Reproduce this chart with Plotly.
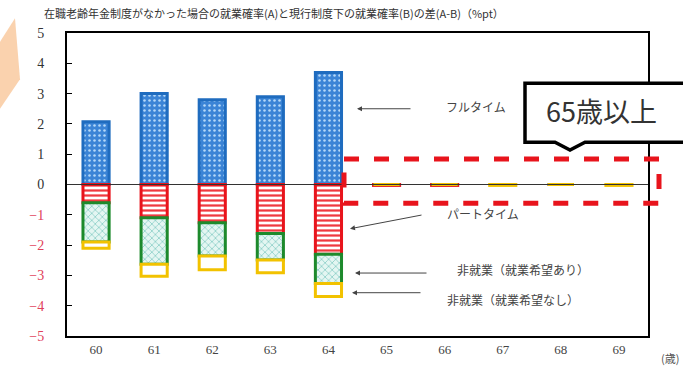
import plotly.graph_objects as go

ages = ["60", "61", "62", "63", "64", "65", "66", "67", "68", "69"]
fulltime = [2.07, 3.0, 2.8, 2.9, 3.7, 0, 0, 0, 0, 0]
parttime = [-0.6, -1.1, -1.26, -1.62, -2.3, -0.03, -0.03, 0, 0, 0]
nonemp_wish = [-1.3, -1.53, -1.1, -0.87, -0.97, 0, 0, 0, 0, 0]
nonemp_nowish = [-0.2, -0.4, -0.45, -0.42, -0.43, 0, 0, -0.03, 0, -0.03]
ytick_vals = [5, 4, 3, 2, 1, 0, -1, -2, -3, -4, -5]

W, H = 683, 369
L, R, T, B = 67, 648, 33, 341


def px(x):
    return (x - L) / (R - L)


def py(y):
    return (B - y) / (B - T)


fig = go.Figure()
fig.add_trace(go.Bar(
    x=ages, y=fulltime, name="フルタイム",
    marker=dict(color="#3b84d6", line=dict(color="#1f6cbf", width=3),
                pattern=dict(shape=".", fgcolor="#b4d8f8", bgcolor="#3b84d6",
                             size=5, solidity=0.2, fillmode="replace")),
))
fig.add_trace(go.Bar(
    x=ages, y=parttime, name="パートタイム",
    marker=dict(color="white", line=dict(color="#e8141c", width=3),
                pattern=dict(shape="-", fgcolor="#ef3a40", bgcolor="white",
                             size=5, solidity=0.45, fillmode="replace")),
))
fig.add_trace(go.Bar(
    x=ages, y=nonemp_wish, name="非就業（就業希望あり）",
    marker=dict(color="#d6f2ee", line=dict(color="#1d8a2c", width=3),
                pattern=dict(shape="x", fgcolor="#7cc7c0", bgcolor="#e4f6f2",
                             size=5, solidity=0.25, fillmode="replace")),
))
fig.add_trace(go.Bar(
    x=ages, y=nonemp_nowish, name="非就業（就業希望なし）",
    marker=dict(color="white", line=dict(color="#f2c200", width=3)),
))

ticktext = []
for v in ytick_vals:
    if v < 0:
        ticktext.append(f"<span style='color:#e0405a'>−{abs(v)}</span>")
    else:
        ticktext.append(str(v))

fig.update_layout(
    width=W, height=H,
    margin=dict(l=L, r=W - R, t=T, b=H - B),
    paper_bgcolor="white", plot_bgcolor="white",
    barmode="relative", bargap=0.55, showlegend=False,
    font=dict(family="Liberation Serif", size=13, color="#333"),
    xaxis=dict(showline=True, linecolor="black", linewidth=2, mirror=True,
               ticks="", showgrid=False, zeroline=False,
               tickfont=dict(family="Liberation Serif", size=13, color="#444")),
    yaxis=dict(range=[-5, 5], tickvals=ytick_vals, ticktext=ticktext,
               showline=True, linecolor="black", linewidth=2, mirror=True,
               ticks="inside", ticklen=5, tickwidth=1, tickcolor="black",
               ticklabelstandoff=18, showgrid=False, zeroline=False,
               tickfont=dict(family="Liberation Serif", size=14, color="#333")),
)

shapes = []
# zero line above bars
shapes.append(dict(type="line", xref="paper", yref="y", x0=0, x1=1, y0=0, y1=0,
                   line=dict(color="#333", width=1), layer="above"))
# orange decoration top-left
shapes.append(dict(type="path", xref="paper", yref="paper",
                   path=f"M {px(0)},{py(42)} L {px(15)},{py(18)} L {px(20)},{py(80)} L {px(0)},{py(110)} Z",
                   fillcolor="#f9c79a", line=dict(width=0), opacity=0.8, layer="above"))
# red dashed rectangle
shapes.append(dict(type="rect", xref="paper", yref="paper",
                   x0=px(344), x1=px(659), y0=py(161), y1=py(206),
                   line=dict(color="#e8141c", width=5, dash="dash"), layer="above"))
# callout box
shapes.append(dict(type="path", xref="paper", yref="paper",
                   path=(f"M {px(525)},{py(84)} L {px(690)},{py(84)} L {px(690)},{py(144)} "
                         f"L {px(585)},{py(144)} L {px(570)},{py(152)} L {px(555)},{py(144)} "
                         f"L {px(525)},{py(144)} Z"),
                   fillcolor="white", line=dict(color="black", width=3.5), layer="above"))
fig.update_layout(shapes=shapes)


def note(text, x, y, size, color, family="Noto Sans CJK JP"):
    return dict(x=px(x), y=py(y), xref="paper", yref="paper", showarrow=False,
                xanchor="center", yanchor="middle", text=text,
                font=dict(family=family, size=size, color=color))


ann = []
ann.append(note("在職老齢年金制度がなかった場合の就業確率(A)と現行制度下の就業確率(B)の差(A-B)（%pt）",
                274, 13, 11, "#333"))
ann.append(note("65歳以上", 601, 112, 27, "#333"))
ann.append(note("(歳)", 670, 363, 11, "#555"))

labels = [
    ("フルタイム", 476, 108, 412, 110, 357, 110),
    ("パートタイム", 483, 216, 423, 218, 350, 232),
    ("非就業（就業希望あり）", 523, 273, 428, 277, 355, 277),
    ("非就業（就業希望なし）", 513, 304, 422, 297, 352, 297),
]
for text, lx, ly, x0, y0, x1, y1 in labels:
    ann.append(note(text, lx, ly, 12, "#444"))
    ann.append(dict(x=px(x1), y=py(y1), ax=x0 - x1, ay=y0 - y1, xref="paper", yref="paper",
                    axref="pixel", ayref="pixel", showarrow=True, text="",
                    arrowhead=2, arrowsize=1, arrowwidth=1, arrowcolor="#444"))
fig.update_layout(annotations=ann)

fig.write_html("out.html")
